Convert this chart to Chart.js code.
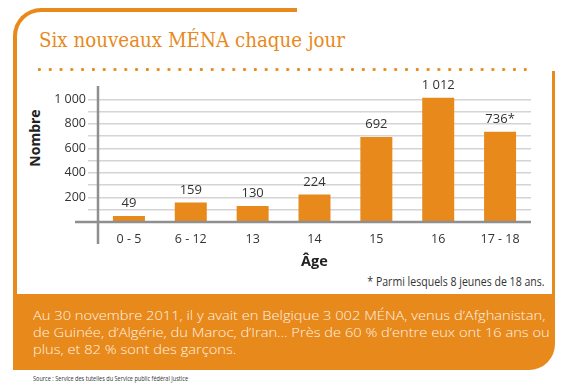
<!DOCTYPE html>
<html>
<head>
<meta charset="utf-8">
<script src="https://cdn.jsdelivr.net/npm/chart.js@4.4.1/dist/chart.umd.min.js"></script>
<style>
  html, body { margin: 0; padding: 0; background: #fff; }
  body { width: 570px; height: 387px; position: relative; overflow: hidden; font-family: "Open Sans", sans-serif; }
  .abs { position: absolute; white-space: nowrap; }
  #frame { left: 13px; top: 7.5px; width: 280px; height: 300px; border-top: 4px solid #E8891B; border-left: 4px solid #E8891B; border-top-left-radius: 28px; }
  #rightLine { left: 551.5px; top: 70.5px; width: 3.5px; height: 230px; background: #E8891B; }
  #box { left: 13px; top: 294px; width: 542px; height: 75.5px; background: #E8891B; border-bottom-right-radius: 26px; }
  #title { left: 39px; top: 30px; font-family: "DejaVu Serif", serif; font-size: 20px; line-height: 20px; color: #E8891B; }
  #dots { left: 37.7px; top: 67.5px; width: 489px; height: 3px;
    background-image: radial-gradient(circle at 1.4px 1.5px, #E8891B 1.3px, rgba(255,255,255,0) 1.7px);
    background-size: 10.8px 3px; }
  #yTitle { left: 5px; top: 129px; width: 60px; height: 18px; line-height: 18px; text-align: center; font-weight: 700; font-size: 14px; color: #222; transform: rotate(-90deg); }
  #note { right: 25.7px; top: 276.4px; font-size: 12px; line-height: 12px; color: #333; }
  #text { left: 33.3px; top: 306.5px; font-size: 13px; line-height: 17px; color: #FFF3E6; font-weight: 300; }
  #source { left: 33px; top: 375px; font-size: 7px; line-height: 8px; color: #333; }
  #chartBox { position: absolute; left: 0; top: 76px; width: 570px; height: 200px; }
</style>
</head>
<body>
<div class="abs" id="frame"></div>
<div class="abs" id="rightLine"></div>
<div class="abs" id="box"></div>
<div class="abs" id="title">Six nouveaux MÉNA chaque jour</div>
<div class="abs" id="dots"></div>
<div class="abs" id="yTitle">Nombre</div>
<div class="abs" id="note">* Parmi lesquels 8 jeunes de 18 ans.</div>
<div class="abs" id="text">Au 30 novembre 2011, il y avait en Belgique 3 002 MÉNA, venus d’Afghanistan,<br>de Guinée, d’Algérie, du Maroc, d’Iran... Près de 60 % d’entre eux ont 16 ans ou<br>plus, et 82 % sont des garçons.</div>
<div class="abs" id="source">Source : Service des tutelles du Service public fédéral Justice</div>
<div id="chartBox"><canvas id="chart"></canvas></div>

<script>
const categories = ["0 - 5", "6 - 12", "13", "14", "15", "16", "17 - 18"];
const counts = [49, 159, 130, 224, 692, 1012, 736];
const marks = ["", "", "", "", "", "", "*"];
const yLabels = [200, 400, 600, 800, 1000];

const ORANGE = "#E8891B";

function fmt(n) {
  return String(n).replace(/\B(?=(\d{3})+(?!\d))/g, " ");
}

// squeeze html text to the width it has in the picture
function fit(id, w, origin) {
  const el = document.getElementById(id);
  el.style.transform = "";
  const r = w / el.offsetWidth;
  el.style.transformOrigin = origin;
  el.style.transform = `scaleX(${r})`;
}

function fitAll() {
  fit("title", 306, "left center");
  fit("note", 177.6, "right center");
  fit("source", 155, "left center");
  // first line of the box text is 512px wide
  const t = document.getElementById("text");
  t.style.transform = "";
  const probe = document.createElement("span");
  probe.textContent = "Au 30 novembre 2011, il y avait en Belgique 3 002 MÉNA, venus d’Afghanistan,";
  probe.style.cssText = "position:absolute;visibility:hidden;white-space:nowrap;font-size:13px;font-weight:300;font-family:'Open Sans',sans-serif";
  document.body.appendChild(probe);
  const r = 512 / probe.offsetWidth;
  probe.remove();
  t.style.transformOrigin = "left top";
  t.style.transform = `scaleX(${r})`;
}

const axisLines = {
  id: "axisLines",
  afterDatasetsDraw(chart) {
    const { ctx, chartArea } = chart;
    const { left, right, top, bottom } = chartArea;
    ctx.save();
    ctx.strokeStyle = "#8f8f8f";
    ctx.lineWidth = 2.5;
    ctx.beginPath();
    ctx.moveTo(left, top - 1);
    ctx.lineTo(left, bottom + 22);
    ctx.moveTo(left - 23, bottom);
    ctx.lineTo(right, bottom);
    ctx.stroke();
    ctx.restore();
  }
};

const valueLabels = {
  id: "valueLabels",
  afterDatasetsDraw(chart) {
    const { ctx } = chart;
    const meta = chart.getDatasetMeta(0);
    ctx.save();
    ctx.font = '13px "Open Sans", sans-serif';
    ctx.fillStyle = "#333";
    ctx.textAlign = "center";
    ctx.textBaseline = "middle";
    meta.data.forEach((bar, i) => {
      ctx.fillText(fmt(counts[i]) + marks[i], bar.x, bar.y - 12.5);
    });
    ctx.restore();
  }
};

function buildChart() {
  const ctx = document.getElementById("chart").getContext("2d");
  new Chart(ctx, {
    type: "bar",
    data: {
      labels: categories,
      datasets: [{
        data: counts,
        backgroundColor: ORANGE,
        borderWidth: 0,
        barPercentage: 1,
        categoryPercentage: 0.517
      }]
    },
    options: {
      responsive: true,
      maintainAspectRatio: false,
      animation: false,
      layout: { padding: { top: 11, right: 39, left: 0, bottom: 0 } },
      plugins: {
        legend: { display: false },
        tooltip: { enabled: false }
      },
      scales: {
        x: {
          grid: { display: false, drawTicks: false },
          border: { display: false },
          ticks: { color: "#333", font: { family: "Open Sans", size: 12.5 }, padding: 9.5, maxRotation: 0 },
          title: { display: true, text: "Âge", color: "#222", font: { family: "Open Sans", size: 14.5, weight: "bold" }, padding: { top: 0, bottom: 5 } },
          afterFit(scale) { scale.height = 54; }
        },
        y: {
          min: 0,
          max: 1100,
          border: { display: false },
          grid: {
            color: (c) => (c.tick && c.tick.value > 0 && c.tick.value <= 1000 ? "#d4d4d4" : "rgba(0,0,0,0)"),
            lineWidth: 1.5,
            tickLength: 10
          },
          ticks: {
            stepSize: 100,
            autoSkip: false,
            padding: 2,
            color: "#333",
            font: { family: "Open Sans", size: 12.5 },
            callback: (v) => (yLabels.includes(v) ? fmt(v) : "")
          },
          afterFit(scale) { scale.width = 98; }
        }
      }
    },
    plugins: [axisLines, valueLabels]
  });
}

window.addEventListener("DOMContentLoaded", () => {
  fitAll();
  buildChart();
  if (document.fonts) document.fonts.ready.then(fitAll);
});
</script>
</body>
</html>
